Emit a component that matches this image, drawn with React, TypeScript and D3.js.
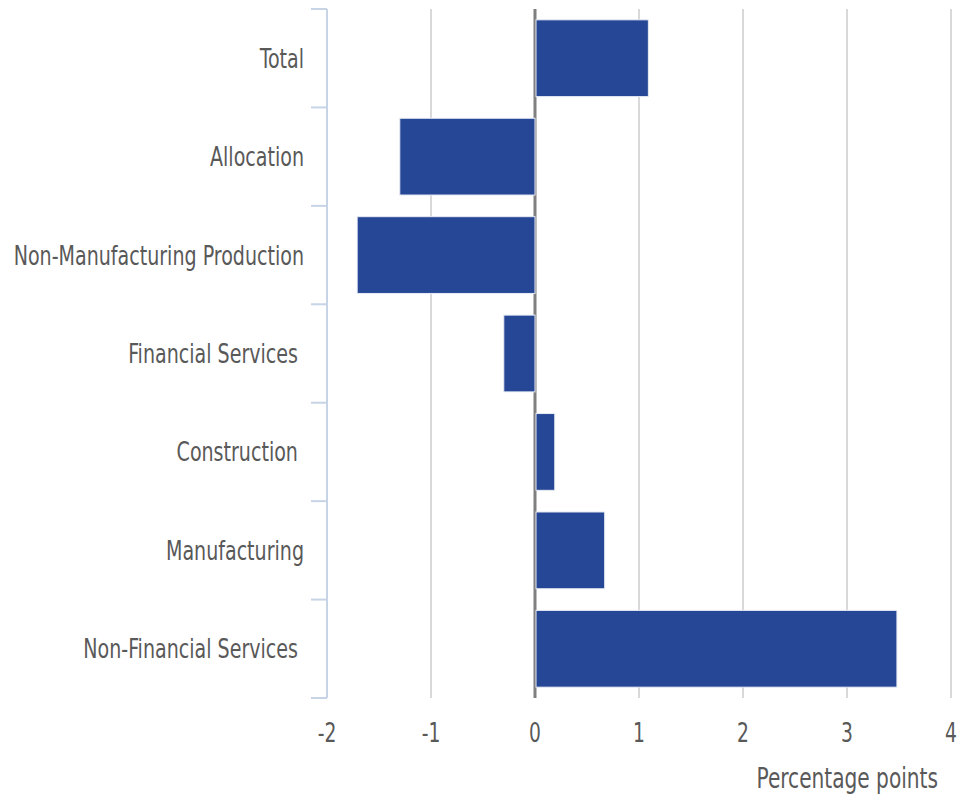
import React, { useEffect, useRef } from "react";
import * as d3 from "d3";

// Contribution to growth by sector, percentage points

const categories = [
  "Total",
  "Allocation",
  "Non-Manufacturing Production",
  "Financial Services ",
  "Construction ",
  "Manufacturing",
  "Non-Financial Services ",
];
const values = [1.09, -1.3, -1.71, -0.3, 0.19, 0.67, 3.48];
const xTicks = [-2, -1, 0, 1, 2, 3, 4];

const App = () => {
  const svgRef = useRef<SVGSVGElement>(null);

  useEffect(() => {
    const width = 969;
    const height = 797;
    const margin = { top: 9, right: 18, bottom: 99, left: 327 };
    const font = "'DejaVu Sans Condensed', 'DejaVu Sans', sans-serif";
    const textColor = "#595959";

    const svg = d3.select(svgRef.current);
    svg.selectAll("*").remove();

    const x = d3.scaleLinear()
      .domain([-2, 4])
      .range([margin.left, width - margin.right]);

    const y = d3.scaleBand()
      .domain(categories)
      .range([margin.top, height - margin.bottom])
      .paddingInner(0.22)
      .paddingOuter(0.11);

    const top = margin.top;
    const bottom = height - margin.bottom;

    // gridlines
    svg.append("g")
      .selectAll("line")
      .data(xTicks.filter(d => d !== 0 && d !== -2))
      .join("line")
      .attr("x1", d => x(d))
      .attr("x2", d => x(d))
      .attr("y1", top)
      .attr("y2", bottom)
      .attr("stroke", "#d9d9d9")
      .attr("stroke-width", 2);

    // zero line
    svg.append("line")
      .attr("x1", x(0))
      .attr("x2", x(0))
      .attr("y1", top)
      .attr("y2", bottom)
      .attr("stroke", "#7f7f7f")
      .attr("stroke-width", 3);

    // bars
    svg.append("g")
      .selectAll("rect")
      .data(values)
      .join("rect")
      .attr("x", d => x(Math.min(0, d)) + (d > 0 ? 1 : 0))
      .attr("y", (d, i) => y(categories[i]))
      .attr("width", d => Math.abs(x(d) - x(0)) - (d > 0 ? 1 : 0))
      .attr("height", y.bandwidth())
      .attr("fill", "#264795")
      .attr("stroke", "#e8ecf5")
      .attr("stroke-width", 1);

    // left axis: line plus ticks at band boundaries
    const step = y.step();
    const bounds = d3.range(categories.length + 1).map(i => top + i * step);
    const left = svg.append("g")
      .attr("stroke", "#c6d4e6")
      .attr("stroke-width", 2);
    left.append("line")
      .attr("x1", margin.left)
      .attr("x2", margin.left)
      .attr("y1", top)
      .attr("y2", bottom);
    left.selectAll("line.tick")
      .data(bounds)
      .join("line")
      .attr("class", "tick")
      .attr("x1", margin.left - 16)
      .attr("x2", margin.left)
      .attr("y1", d => d)
      .attr("y2", d => d);

    // category labels
    svg.append("g")
      .selectAll("text")
      .data(categories)
      .join("text")
      .attr("transform", d => `translate(${margin.left - 23},${y(d) + y.bandwidth() / 2}) scale(0.785,1)`)
      .attr("text-anchor", "end")
      .attr("dy", "0.35em")
      .attr("font-family", font)
      .attr("font-size", 27)
      .attr("fill", textColor)
      .style("white-space", "pre")
      .text(d => d);

    // x tick labels
    svg.append("g")
      .selectAll("text")
      .data(xTicks)
      .join("text")
      .attr("transform", d => `translate(${x(d)},${bottom + 35}) scale(0.8,1)`)
      .attr("text-anchor", "middle")
      .attr("dy", "0.35em")
      .attr("font-family", font)
      .attr("font-size", 26)
      .attr("fill", textColor)
      .text(d => String(d));

    // axis title
    svg.append("text")
      .attr("transform", `translate(${width - 31},${bottom + 80}) scale(0.8,1)`)
      .attr("text-anchor", "end")
      .attr("dy", "0.35em")
      .attr("font-family", font)
      .attr("font-size", 28)
      .attr("fill", textColor)
      .text("Percentage points");
  }, []);

  return (
    <svg
      ref={svgRef}
      width={969}
      height={797}
      style={{ position: "absolute", left: 0, top: 0, background: "#fff" }}
    ></svg>
  );
};

export default App;
